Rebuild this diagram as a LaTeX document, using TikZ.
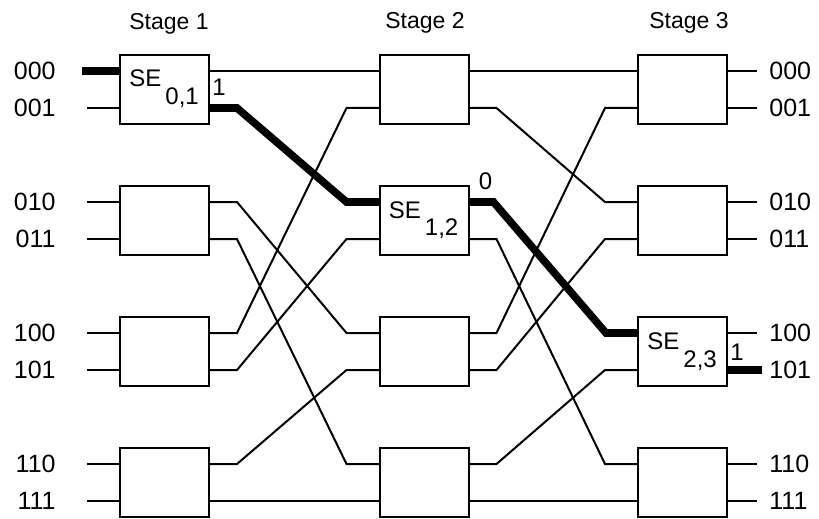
\documentclass[tikz,border=0pt]{standalone}
\usepackage{fontspec}
\setmainfont{Liberation Sans}
\usetikzlibrary{positioning}

\tikzset{
  sebox/.style={draw, line width=1pt, minimum width=44.5pt, minimum height=34.5pt,
                inner sep=0pt, outer sep=0pt},
  wire/.style={line width=1pt},
  route/.style={line width=3.8pt},
  portlbl/.style={inner sep=0pt, font=\fontsize{12.5}{14}\selectfont},
  stagelbl/.style={inner sep=0pt, font=\fontsize{11.5}{13}\selectfont},
  selbl/.style={inner sep=0pt, anchor=base west, font=\fontsize{12}{14}\selectfont},
  bitlbl/.style={inner sep=0pt, anchor=base west, font=\fontsize{12}{14}\selectfont}
}
\newcommand{\selabel}[1]{SE\hspace{2pt}\raisebox{-9pt}{\fontsize{12}{14}\selectfont #1}}

\begin{document}
\begin{tikzpicture}[x=0.5pt, y=-0.5pt]
  \useasboundingbox (0,0) rectangle (819,519);

  % stage titles
  \node[stagelbl] (st1) at (169,24) {Stage 1};
  \node[stagelbl] (st2) at (425,23) {Stage 2};
  \node[stagelbl] (st3) at (689,23) {Stage 3};

  % switching elements and their ports
  \foreach \m/\cx in {1/164.5, 2/424, 3/682.5} {
    \foreach \j in {0,...,3} {
      \node[sebox] (se\m\j) at (\cx,{89.5+131*\j}) {};
      \coordinate (se\m\j i0) at ([yshift=9.25pt]se\m\j.west);
      \coordinate (se\m\j i1) at ([yshift=-9.25pt]se\m\j.west);
      \coordinate (se\m\j o0) at ([yshift=9.25pt]se\m\j.east);
      \coordinate (se\m\j o1) at ([yshift=-9.25pt]se\m\j.east);
    }
  }

  % shuffle wiring between stages
  \foreach \m/\n in {1/2, 2/3} {
    \foreach \bx/\px/\by/\py in {0/0/0/0, 0/1/1/0, 1/0/2/0, 1/1/3/0,
                                 2/0/0/1, 2/1/1/1, 3/0/2/1, 3/1/3/1} {
      \draw[wire] (se\m\bx o\px) -- ++(28,0) -- ([xshift=-16.5pt]se\n\by i\py)
        -- (se\n\by i\py);
    }
  }

  % inputs and outputs
  \foreach \k/\bx/\px in {000/0/0, 001/0/1, 010/1/0, 011/1/1,
                          100/2/0, 101/2/1, 110/3/0, 111/3/1} {
    \coordinate (in\k) at ([xshift=-16.5pt]se1\bx i\px);
    \node[portlbl, anchor=east] (lin\k) at ([xshift=-15.5pt]in\k) {\k};
    \draw[wire] (in\k) -- (se1\bx i\px);
    \coordinate (out\k) at ([xshift=15pt]se3\bx o\px);
    \node[portlbl, anchor=west] (lout\k) at ([xshift=6pt]out\k) {\k};
    \draw[wire] (se3\bx o\px) -- (out\k);
  }

  % path 000 -> 101
  \coordinate (src) at ([xshift=-2.5pt]in000);
  \coordinate (dst) at ([xshift=2.5pt]out101);
  \draw[route] (src) -- (se10i0);
  \draw[route] (se10o1) -- ++(28,0) -- ([xshift=-16.5pt]se21i0) -- (se21i0);
  \draw[route] (se21o0) -- ++(25,0) -- ([xshift=-16pt]se32i0) -- (se32i0);
  \draw[route] (se32o1) -- (dst);

  \node[selbl] (lse01) at ([xshift=4.5pt,yshift=-16pt]se10.north west) {\selabel{0,1}};
  \node[selbl] (lse12) at ([xshift=4.5pt,yshift=-16pt]se21.north west) {\selabel{1,2}};
  \node[selbl] (lse23) at ([xshift=4.5pt,yshift=-16pt]se32.north west) {\selabel{2,3}};

  \node[bitlbl] (bit01) at ([xshift=1.5pt,yshift=6pt]se10o1) {1};
  \node[bitlbl] (bit12) at ([xshift=5pt,yshift=6pt]se21o0) {0};
  \node[bitlbl] (bit23) at ([xshift=1.5pt,yshift=5pt]se32o1) {1};
\end{tikzpicture}
\end{document}
